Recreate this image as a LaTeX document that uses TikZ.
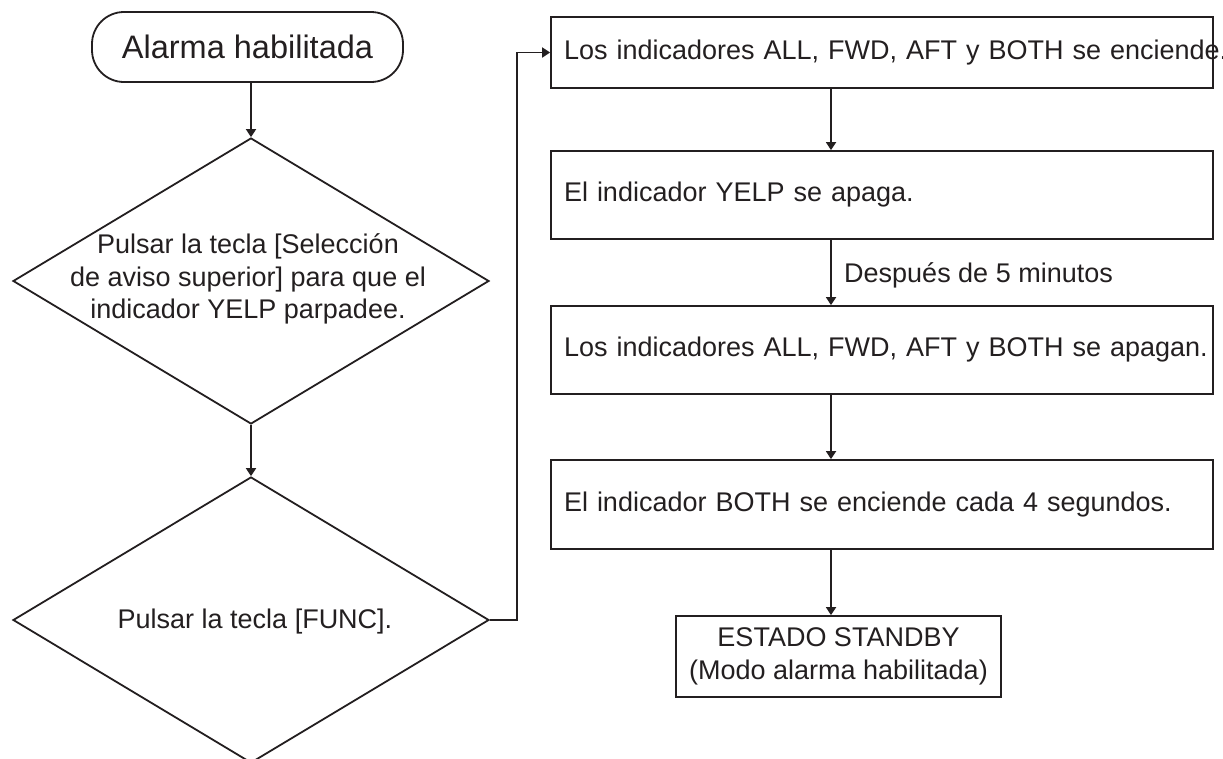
\documentclass[tikz,border=0pt]{standalone}
\usepackage{fontspec}
\setmainfont{Liberation Sans}
\usetikzlibrary{shapes.geometric,arrows.meta,calc}
\definecolor{ink}{RGB}{35,31,32}
\begin{document}
\begin{tikzpicture}[x=1pt,y=-1pt,
  every node/.style={text=ink},
  line/.style={draw=ink,line width=1.8pt},
  arr/.style={line,-{Triangle[length=8pt,width=10pt]}},
  txt/.style={inner sep=0pt,font=\fontsize{27}{32.5}\selectfont},
  box/.style={rectangle,draw=ink,line width=1.8pt,minimum width=662pt,
    text width=636pt,inner xsep=13pt,inner ysep=0pt,align=left,
    font=\fontsize{27}{32.5}\selectfont},
  endbox/.style={rectangle,draw=ink,line width=1.8pt,minimum width=325pt,
    minimum height=81pt,inner sep=0pt,align=center,
    font=\fontsize{27}{32.5}\selectfont},
  startbox/.style={rectangle,draw=ink,line width=1.8pt,rounded corners=32pt,
    minimum width=311pt,minimum height=70pt,inner sep=0pt,
    font=\fontsize{32.5}{38}\selectfont},
  decision/.style={diamond,draw=ink,line width=1.8pt,minimum width=476pt,
    minimum height=286pt,inner sep=0pt}
]
\useasboundingbox (0,0) rectangle (1223,758);
\clip (0,0) rectangle (1223,758);

% left column
\node[startbox] (start) at (247.5,47) {Alarma habilitada};
\node[decision] (d1) at (251,281) {};
\node[txt,align=center] (t1) at (248,279)
  {Pulsar la tecla [Selección\\de aviso superior] para que el\\indicador YELP parpadee.};
\node[decision] (d2) at (251,620) {};
\node[txt] (t2) at (255,622) {Pulsar la tecla [FUNC].};

% right column
\node[box,minimum height=71pt] (b1) at (882,52.5)
  {\mbox{Los indicadores ALL, FWD, AFT y BOTH se enciende.}};
\node[box,minimum height=88pt] (b2) at (882,195) {\mbox{El indicador YELP se apaga.}};
\node[box,minimum height=88pt] (b3) at (882,350) {\mbox{Los indicadores ALL, FWD, AFT y BOTH se apagan.}};
\node[box,minimum height=89pt] (b4) at (882,504.5) {\mbox{El indicador BOTH se enciende cada 4 segundos.}};
\node[endbox] (b5) at (838.5,656.5) {ESTADO STANDBY\\(Modo alarma habilitada)};

\coordinate (ax) at (831,0);

% connectors
\draw[arr] (start.south -| d1.north) -- (d1.north);
\draw[arr] (d1.south) -- (d2.north);
\draw[arr] (d2.east) -- ++(27,0) |- (b1.west);
\draw[arr] (b1.south -| ax) -- (b2.north -| ax);
\draw[arr] (b2.south -| ax) -- (b3.north -| ax);
\node[txt,anchor=west] (lab) at (844,275) {Después de 5 minutos};
\draw[arr] (b3.south -| ax) -- (b4.north -| ax);
\draw[arr] (b4.south -| ax) -- (b5.north -| ax);
\end{tikzpicture}
\end{document}
